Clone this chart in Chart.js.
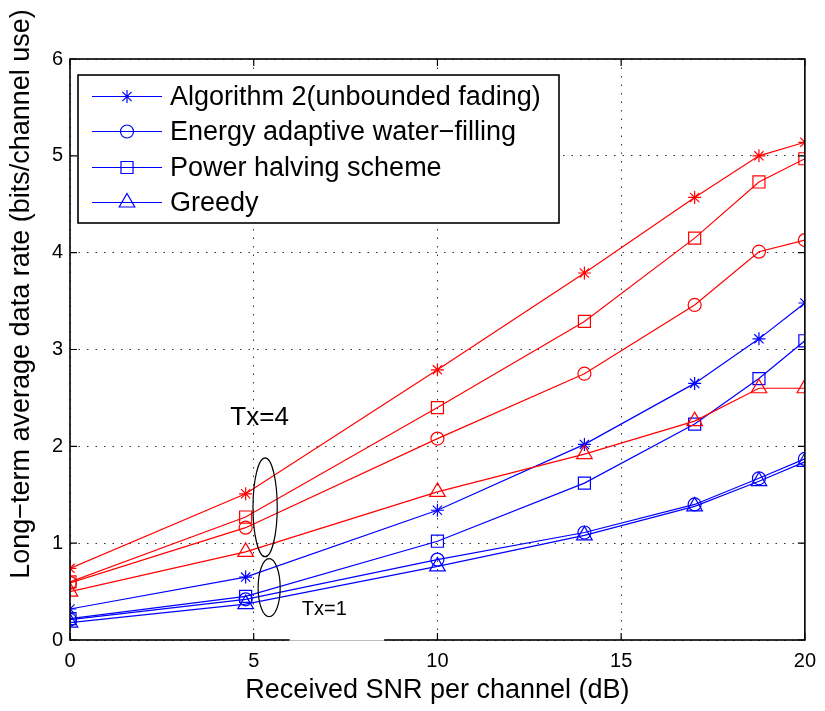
<!DOCTYPE html>
<html><head><meta charset="utf-8">
<script src="https://cdn.jsdelivr.net/npm/chart.js@4/dist/chart.umd.min.js"></script>
<style>html,body{margin:0;padding:0;background:#fff;}#wrap{width:825px;height:711px;position:relative;}</style>
</head><body><div id="wrap"><canvas id="c"></canvas></div>
<script>
const snr = [0, 4.78, 10, 14, 17, 18.75, 20];
const seriesNames = ['Algorithm 2(unbounded fading)', 'Energy adaptive water\u2212filling', 'Power halving scheme', 'Greedy'];
const seriesStyles = ['star', 'circle', 'rect', 'triangle'];
const tx4Alg2   = [0.74, 1.51, 2.79, 3.79, 4.57, 5.00, 5.14];
const tx4Energy = [0.59, 1.16, 2.08, 2.75, 3.46, 4.01, 4.13];
const tx4Power  = [0.60, 1.27, 2.40, 3.29, 4.15, 4.73, 4.97];
const tx4Greedy = [0.50, 0.91, 1.53, 1.92, 2.26, 2.60, 2.60];
const tx1Alg2   = [0.32, 0.65, 1.34, 2.02, 2.65, 3.11, 3.48];
const tx1Energy = [0.21, 0.42, 0.83, 1.11, 1.40, 1.67, 1.87];
const tx1Power  = [0.22, 0.45, 1.02, 1.62, 2.23, 2.70, 3.09];
const tx1Greedy = [0.18, 0.37, 0.76, 1.08, 1.38, 1.64, 1.84];
const xTicks = [0, 5, 10, 15, 20];
const yTicks = [0, 1, 2, 3, 4, 5, 6];
const xTitle = 'Received SNR per channel (dB)';
const yTitle = 'Long\u2212term average data rate (bits/channel use)';
const notes = ['Tx=4', 'Tx=1'];

const RED = '#ff0000', BLUE = '#0000ff';
const FONT = '"Liberation Sans", Arial, Helvetica, sans-serif';
const radii = {star: 6.5, circle: 6.5, rect: 8.5, triangle: 9};

function mk(arr, color, idx) {
  const st = seriesStyles[idx];
  return {
    label: seriesNames[idx],
    data: snr.map((x, i) => ({x: x, y: arr[i]})),
    borderColor: color, backgroundColor: 'rgba(0,0,0,0)',
    pointBorderColor: color, pointBackgroundColor: 'rgba(0,0,0,0)',
    borderWidth: 1.2, pointBorderWidth: 1.2,
    pointStyle: st, pointRadius: radii[st], pointHoverRadius: radii[st],
    tension: 0, fill: false
  };
}

const datasets = [
  mk(tx4Alg2, RED, 0), mk(tx4Energy, RED, 1), mk(tx4Power, RED, 2), mk(tx4Greedy, RED, 3),
  mk(tx1Alg2, BLUE, 0), mk(tx1Energy, BLUE, 1), mk(tx1Power, BLUE, 2), mk(tx1Greedy, BLUE, 3)
];

const decor = {
  id: 'decor',
  afterDatasetsDraw(chart) {
    const ctx = chart.ctx, xs = chart.scales.x, ys = chart.scales.y;
    ctx.save();
    ctx.strokeStyle = '#000'; ctx.lineWidth = 1.2;
    const ell = (cx, cy, hx, hy) => {
      const px = xs.getPixelForValue(cx), py = ys.getPixelForValue(cy);
      const rx = Math.abs(xs.getPixelForValue(cx + hx) - px), ry = Math.abs(ys.getPixelForValue(cy + hy) - py);
      ctx.beginPath(); ctx.ellipse(px, py, rx, ry, 0, 0, Math.PI * 2); ctx.stroke();
    };
    ell(5.31, 1.37, 0.33, 0.51);
    ell(5.42, 0.54, 0.30, 0.30);
    ctx.fillStyle = '#000'; ctx.textAlign = 'center'; ctx.textBaseline = 'middle';
    ctx.font = '26px ' + FONT;
    ctx.fillText(notes[0], xs.getPixelForValue(5.16), ys.getPixelForValue(2.29));
    ctx.font = '20px ' + FONT;
    ctx.fillText(notes[1], xs.getPixelForValue(6.92), ys.getPixelForValue(0.31));
    ctx.restore();
  },
  afterDraw(chart) {
    const ctx = chart.ctx, a = chart.chartArea, xs = chart.scales.x, ys = chart.scales.y;
    ctx.save();
    ctx.strokeStyle = '#000'; ctx.lineWidth = 1.6;
    ctx.strokeRect(a.left, a.top, a.right - a.left, a.bottom - a.top);
    ctx.lineWidth = 1.2; ctx.beginPath();
    xTicks.forEach(v => {
      const p = xs.getPixelForValue(v);
      ctx.moveTo(p, a.bottom); ctx.lineTo(p, a.bottom - 7);
      ctx.moveTo(p, a.top); ctx.lineTo(p, a.top + 7);
    });
    yTicks.forEach(v => {
      const p = ys.getPixelForValue(v);
      ctx.moveTo(a.left, p); ctx.lineTo(a.left + 7, p);
      ctx.moveTo(a.right, p); ctx.lineTo(a.right - 7, p);
    });
    ctx.stroke();
    const s0 = xs.getPixelForValue(5.98), s1 = xs.getPixelForValue(8.55);
    ctx.fillStyle = '#fff'; ctx.fillRect(s0, a.bottom - 1.5, s1 - s0, 3);
    ctx.strokeStyle = '#bbb'; ctx.lineWidth = 1; ctx.beginPath();
    ctx.moveTo(s0, a.bottom + 0.5); ctx.lineTo(s1, a.bottom + 0.5); ctx.stroke();
    // y title
    ctx.fillStyle = '#000'; ctx.font = '27px ' + FONT;
    ctx.textAlign = 'center'; ctx.textBaseline = 'middle';
    ctx.translate(22, 294); ctx.rotate(-Math.PI / 2);
    ctx.fillText(yTitle, 0, 0);
    ctx.setTransform(1, 0, 0, 1, 0, 0);
    // legend
    const bx = 78, by = 75, bw = 481, bh = 148;
    ctx.fillStyle = '#fff'; ctx.fillRect(bx, by, bw, bh);
    ctx.strokeStyle = '#000'; ctx.lineWidth = 1.6; ctx.strokeRect(bx, by, bw, bh);
    ctx.textAlign = 'left'; ctx.textBaseline = 'middle';
    const rows = [96.5, 131.5, 167.5, 202.5];
    seriesNames.forEach((name, i) => {
      const y = rows[i];
      ctx.strokeStyle = BLUE; ctx.lineWidth = 1;
      ctx.beginPath(); ctx.moveTo(92, y); ctx.lineTo(162, y); ctx.stroke();
      const st = seriesStyles[i];
      ctx.fillStyle = 'rgba(0,0,0,0)'; ctx.strokeStyle = BLUE; ctx.lineWidth = 1.2;
      Chart.helpers.drawPoint(ctx, {pointStyle: st, radius: radii[st], rotation: 0, borderWidth: 1.2}, 127, y);
      ctx.fillStyle = '#000'; ctx.font = '27px ' + FONT;
      ctx.fillText(name, 170, y + 1);
    });
    ctx.restore();
  }
};

new Chart(document.getElementById('c'), {
  type: 'line',
  data: {datasets: datasets},
  options: {
    responsive: true, maintainAspectRatio: false, animation: false,
    layout: {padding: {top: 59, right: 18, left: 0, bottom: 0}},
    plugins: {legend: {display: false}, tooltip: {enabled: false}},
    scales: {
      x: {
        type: 'linear', min: 0, max: 20,
        afterBuildTicks: s => { s.ticks = xTicks.map(v => ({value: v})); },
        afterFit: s => { s.height = 71; },
        ticks: {color: '#000', font: {family: FONT, size: 20}, padding: 9, maxRotation: 0},
        grid: {color: '#333', lineWidth: 1, drawTicks: false},
        border: {display: false, dash: [1.5, 7]},
        title: {display: true, text: xTitle, color: '#000', font: {family: FONT, size: 27}, padding: {top: 0, bottom: 4}}
      },
      y: {
        type: 'linear', min: 0, max: 6,
        afterBuildTicks: s => { s.ticks = yTicks.map(v => ({value: v})); },
        afterFit: s => { s.width = 70; },
        ticks: {color: '#000', font: {family: FONT, size: 20}, padding: 7},
        grid: {color: '#333', lineWidth: 1, drawTicks: false},
        border: {display: false, dash: [1.5, 7]}
      }
    }
  },
  plugins: [decor]
});
</script></body></html>
